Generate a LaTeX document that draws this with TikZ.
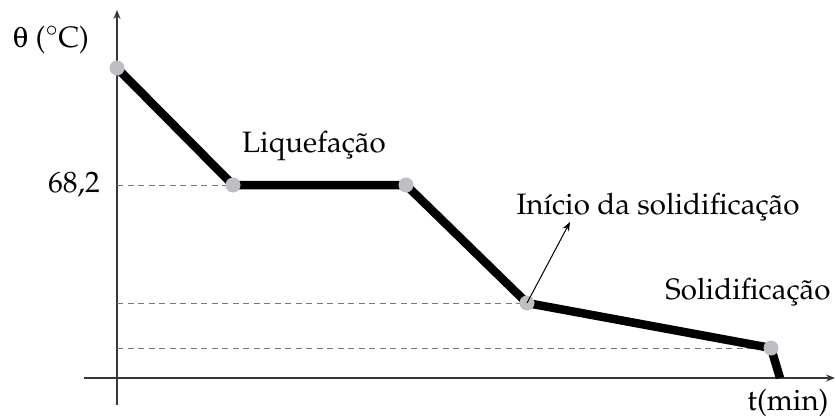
\documentclass[tikz,border=0pt]{standalone}
\usepackage[T1]{fontenc}
\usepackage{mathpazo}
\usepackage[Symbol]{upgreek}
\usetikzlibrary{arrows.meta}
\definecolor{dotgray}{RGB}{190,190,196}
\definecolor{axisgray}{RGB}{55,55,55}
\definecolor{dashgray}{RGB}{120,120,120}
\tikzset{
  axisline/.style={draw=axisgray,line width=1.8pt,-{Stealth[length=9pt,width=7pt]}},
  curveline/.style={draw=black,line width=8.5pt,line join=miter},
  guide/.style={draw=dashgray,line width=1pt,dash pattern=on 6pt off 4.5pt},
  pt/.style={circle,fill=dotgray,inner sep=0pt,minimum size=15pt},
  lbl/.style={font=\fontsize{29.5}{34}\selectfont,inner sep=0pt},
  pointer/.style={draw=black,line width=1pt,-{Stealth[length=9pt,width=7pt]}}
}
\begin{document}
\begin{tikzpicture}[x=1pt,y=-1pt]
\useasboundingbox (0,0) rectangle (836,418);
% axes
\coordinate (ybot) at (117,405);
\coordinate (ytop) at (117,10);
\coordinate (xl) at (84,378);
\coordinate (xr) at (835,378);
\draw[axisline] (ybot) -- (ytop);
\draw[axisline] (xl) -- (xr);
% points
\coordinate (p0) at (117,68);
\coordinate (p1) at (233,185);
\coordinate (p2) at (406,185);
\coordinate (p3) at (527,303);
\coordinate (p4) at (771,348);
\coordinate (p5) at (780,378);
\coordinate (y1) at (117,185);
\coordinate (y2) at (117,303);
\coordinate (y3) at (117,348);
% guides
\draw[guide] (y1) -- (p1);
\draw[guide] (y2) -- (p3);
\draw[guide] (y3) -- (p4);
% curve
\draw[curveline] (p0) -- (p1) -- (p2) -- (p3) -- (p4) -- (p5);
% dots
\node[pt] (d0) at (p0) {};
\node[pt] (d1) at (p1) {};
\node[pt] (d2) at (p2) {};
\node[pt] (d3) at (p3) {};
\node[pt] (d4) at (p4) {};
% pointer
\coordinate (tip) at (570,222);
\draw[pointer] (d3.center) -- (tip);
% labels
\node[lbl] (theta) at (51,40) {$\uptheta$ ($^\circ$C)};
\node[lbl,anchor=east] (v682) at (100,185) {68,2};
\node[lbl] (liq) at (314,146) {Liquefa\c{c}\~ao};
\node[lbl] (ini) at (658,207) {In\'{\i}cio da solidifica\c{c}\~ao};
\node[lbl] (sol) at (748,292) {Solidifica\c{c}\~ao};
\node[lbl] (tmin) at (788,403) {t(min)};
\end{tikzpicture}
\end{document}
